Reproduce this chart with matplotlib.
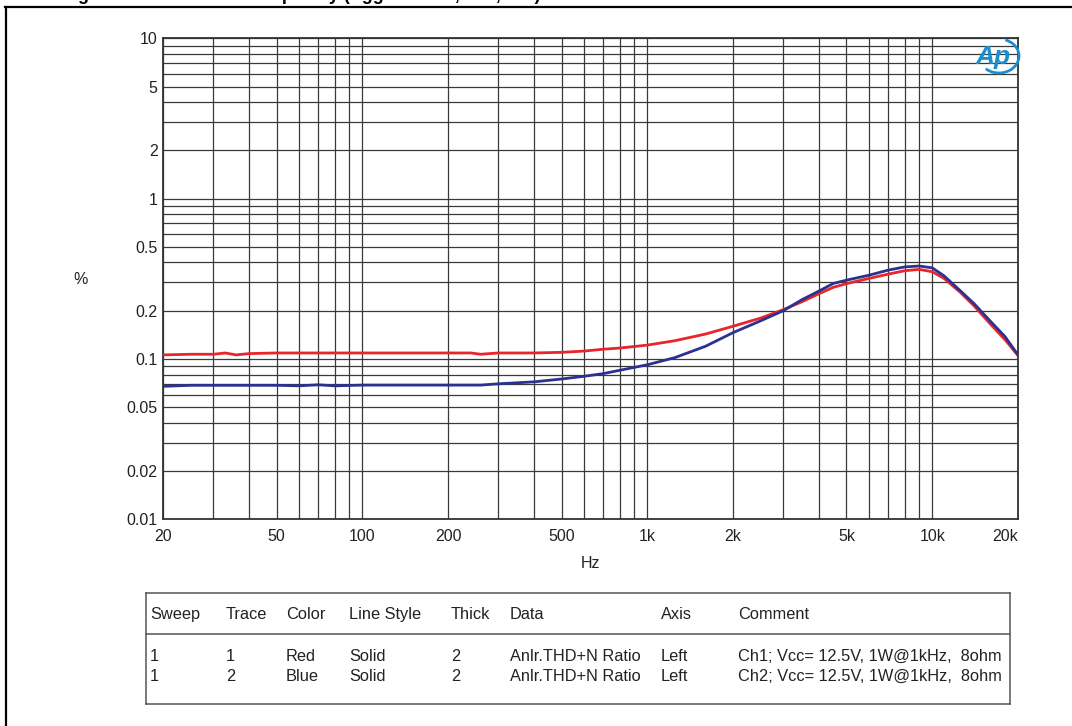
import matplotlib
matplotlib.use("Agg")
import matplotlib.pyplot as plt
from matplotlib.lines import Line2D
from matplotlib.patches import Arc
from matplotlib.ticker import FixedLocator, LogLocator, NullFormatter

plt.rcParams['font.family'] = ['Liberation Sans', 'DejaVu Sans']

# THD+N vs frequency
freq = [20, 25, 30, 33, 36, 40, 50, 60, 70, 80, 100, 150, 200, 240, 260, 300,
        400, 500, 600, 700, 800, 1000, 1250, 1600, 2000, 2500, 3000, 3500, 4000,
        4500, 5000, 6000, 7000, 8000, 9000, 10000, 11000, 12500, 14000, 16000,
        18000, 20000]
red = [0.106, 0.107, 0.107, 0.109, 0.106, 0.108, 0.109, 0.109, 0.109, 0.109,
       0.109, 0.109, 0.109, 0.109, 0.107, 0.109, 0.109, 0.110, 0.112, 0.115,
       0.117, 0.122, 0.130, 0.143, 0.160, 0.180, 0.203, 0.228, 0.255, 0.280,
       0.295, 0.318, 0.338, 0.355, 0.362, 0.350, 0.318, 0.262, 0.215, 0.165,
       0.132, 0.105]
blue = [0.0675, 0.0685, 0.0685, 0.0685, 0.0685, 0.0685, 0.0685, 0.068, 0.069,
        0.068, 0.0687, 0.0687, 0.0687, 0.0687, 0.0687, 0.070, 0.072, 0.075,
        0.078, 0.081, 0.085, 0.092, 0.102, 0.120, 0.146, 0.173, 0.200, 0.235,
        0.265, 0.296, 0.310, 0.333, 0.358, 0.375, 0.380, 0.370, 0.330, 0.268,
        0.222, 0.172, 0.138, 0.106]

xticks = [20, 50, 100, 200, 500, 1000, 2000, 5000, 10000, 20000]
xlabels = ['20', '50', '100', '200', '500', '1k', '2k', '5k', '10k', '20k']
yticks = [0.01, 0.02, 0.05, 0.1, 0.2, 0.5, 1, 2, 5, 10]
ylabels = ['0.01', '0.02', '0.05', '0.1', '0.2', '0.5', '1', '2', '5', '10']

headers = ['Sweep', 'Trace', 'Color', 'Line Style', 'Thick', 'Data', 'Axis', 'Comment']
rows = [['1', '1', 'Red', 'Solid', '2', 'Anlr.THD+N Ratio', 'Left',
         'Ch1; Vcc= 12.5V, 1W@1kHz,  8ohm'],
        ['1', '2', 'Blue', 'Solid', '2', 'Anlr.THD+N Ratio', 'Left',
         'Ch2; Vcc= 12.5V, 1W@1kHz,  8ohm']]
col_x = [150, 226, 286, 349, 451, 510, 661, 738]  # pixel columns of the legend table

W, H = 1072, 726
fig = plt.figure(figsize=(W / 100, H / 100), dpi=100)
ax = fig.add_axes([163.3 / W, 1 - 519.3 / H, (1018 - 163.3) / W, (519.3 - 38.3) / H])

ax.plot(freq, red, color='#e8252b', lw=2, zorder=3)
ax.plot(freq, blue, color='#2b3190', lw=2, zorder=4)

ax.set_xscale('log')
ax.set_yscale('log')
ax.set_xlim(20, 20000)
ax.set_ylim(0.01, 10)
ax.xaxis.set_major_locator(FixedLocator(xticks))
ax.set_xticklabels(xlabels)
ax.yaxis.set_major_locator(FixedLocator(yticks))
ax.set_yticklabels(ylabels)
ax.xaxis.set_minor_locator(LogLocator(base=10, subs=range(1, 10), numticks=20))
ax.yaxis.set_minor_locator(LogLocator(base=10, subs=range(1, 10), numticks=20))
ax.xaxis.set_minor_formatter(NullFormatter())
ax.yaxis.set_minor_formatter(NullFormatter())
ax.tick_params(which='both', length=0, labelsize=11.5, colors='#222222')
ax.tick_params(axis='x', pad=7)
ax.tick_params(axis='y', pad=4)
ax.get_xticklabels()[-1].set_horizontalalignment('right')
ax.grid(which='both', color='#3a3a3a', lw=0.9)
for s in ax.spines.values():
    s.set_color('#333333')
    s.set_linewidth(1.3)

fig.text(81 / W, 1 - 280 / H, '%', fontsize=11.5, ha='center', va='center', color='#222222')
fig.text(590 / W, 1 - 564 / H, 'Hz', fontsize=11.5, ha='center', va='center', color='#222222')

# Ap logo
fig.text(993 / W, 1 - 57 / H, 'Ap', fontsize=19, style='italic', weight='bold',
         color='#1a8fd0', ha='center', va='center')
fig.patches.append(Arc((999 / W, 1 - 56 / H), 40 / W, 34 / H, theta1=-125, theta2=75,
                       transform=fig.transFigure, color='#1a8fd0', lw=2))

# legend table
tl, tr, tt, tsep, tb = 146, 1010, 592.5, 634.3, 704.3
for x0, y0, x1, y1 in [(tl, tt, tr, tt), (tl, tsep, tr, tsep), (tl, tb, tr, tb),
                       (tl, tt, tl, tb), (tr, tt, tr, tb)]:
    fig.add_artist(Line2D([x0 / W, x1 / W], [1 - y0 / H, 1 - y1 / H], color='#555555', lw=1.1))
for h, x in zip(headers, col_x):
    fig.text(x / W, 1 - 619 / H, h, fontsize=11.8, ha='left', va='baseline', color='#222222')
for r, y in zip(rows, [661, 681]):
    for v, x in zip(r, col_x):
        fig.text(x / W, 1 - y / H, v, fontsize=11.8, ha='left', va='baseline', color='#222222')

# outer frame (top and left edges only) and the caption above it, cut by the page edge
fig.add_artist(Line2D([5 / W, 1], [1 - 6.5 / H, 1 - 6.5 / H], color='black', lw=1.6))
fig.add_artist(Line2D([6 / W, 6 / W], [1 - 6.5 / H, 0], color='black', lw=1.6))
fig.text(62 / W, 1 + 0.5 / H, 'Figure 12.  THD+N vs. frequency (Vgg = 12.5 V, 1 W, 8 \u2126)',
         fontsize=13, weight='bold', ha='left', va='baseline')

fig.savefig('out.png', dpi=100)
